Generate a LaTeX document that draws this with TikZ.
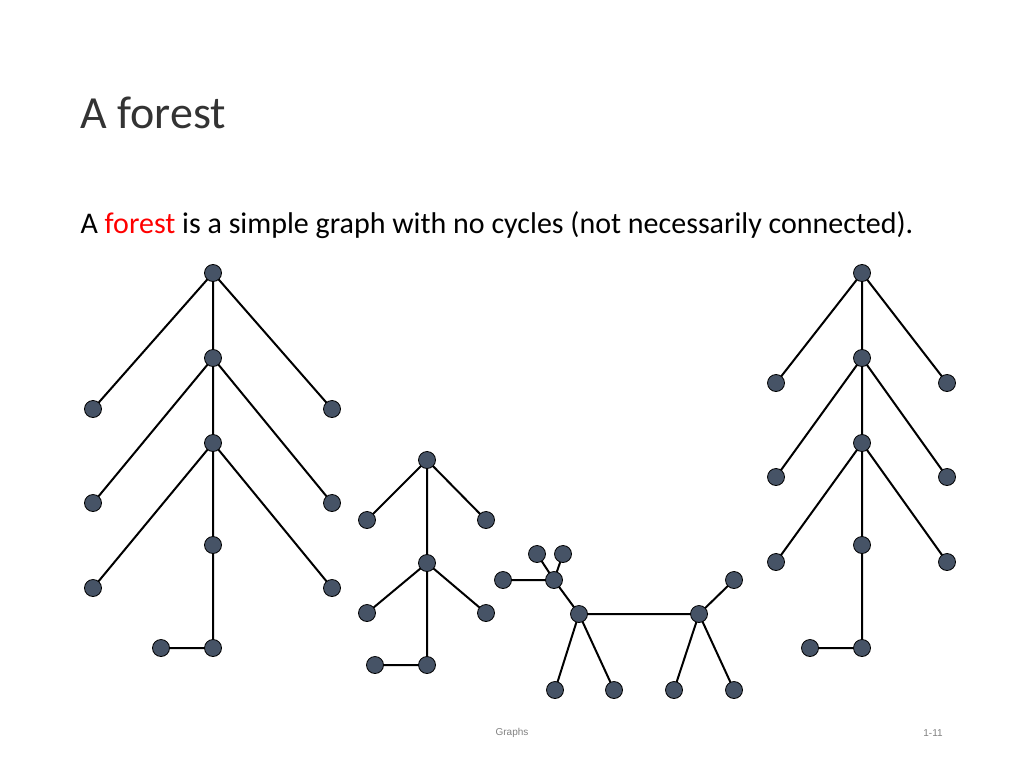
\documentclass[tikz,border=0pt]{standalone}
\usepackage{fontspec}
\setmainfont{Carlito}
\newfontfamily\footfont{Liberation Sans}
\begin{document}
\begin{tikzpicture}[x=1pt,y=-1pt,
  v/.style={circle,draw=black,fill=nodeblue,line width=0.8pt,minimum size=17pt,inner sep=0pt},
  e/.style={line width=2pt}]
\definecolor{nodeblue}{HTML}{465366}
\useasboundingbox (0,0) rectangle (1024,768);
\node[anchor=west,font=\fontsize{46}{54}\selectfont,text=black!80] (title) at (77,113) {A forest};
\node[anchor=west,font=\fontsize{30}{36}\selectfont] (txt) at (77,225) {A \textcolor{red}{forest} is a simple graph with no cycles (not necessarily connected).};
\node[font=\footfont\fontsize{10}{12}\selectfont,text=gray] (ft) at (512,733) {Graphs};
\node[font=\footfont\fontsize{10}{12}\selectfont,text=gray] (pg) at (933,733) {1-11};
% tree 1
\foreach \n/\x/\y in {a1/213/273,a2/213/358,a3/213/443,a4/213/545,a5/213/648,a6/161/648,
  b1/93/409,b2/332/409,b3/93/503,b4/332/503,b5/93/588,b6/332/588}
  \coordinate (\n) at (\x,\y);
\draw[e] (a1)--(a2)--(a3)--(a4)--(a5)--(a6) (a1)--(b1) (a1)--(b2) (a2)--(b3) (a2)--(b4) (a3)--(b5) (a3)--(b6);
% tree 2
\foreach \n/\x/\y in {c1/427/460,c2/367/520,c3/486/520,c4/427/563,c5/367/613,c6/486/613,c7/427/665,c8/375/665}
  \coordinate (\n) at (\x,\y);
\draw[e] (c1)--(c4)--(c7)--(c8) (c1)--(c2) (c1)--(c3) (c4)--(c5) (c4)--(c6);
% deer
\foreach \n/\x/\y in {d1/554/580,d2/537/554,d3/563/554,d4/503/580,d5/579/614,d6/699/614,d7/734/580,d8/555/690,d9/614/690,d10/674/690,d11/734/690}
  \coordinate (\n) at (\x,\y);
\draw[e] (d2)--(d1) (d3)--(d1) (d4)--(d1)--(d5)--(d6)--(d7) (d5)--(d8) (d5)--(d9) (d6)--(d10) (d6)--(d11);
% tree 3
\foreach \n/\x/\y in {f1/862/273,f2/862/358,f3/862/443,f4/862/545,f5/862/648,f6/810/648,
  g1/776/383,g2/947/383,g3/776/477,g4/947/477,g5/776/562,g6/947/562}
  \coordinate (\n) at (\x,\y);
\draw[e] (f1)--(f2)--(f3)--(f4)--(f5)--(f6) (f1)--(g1) (f1)--(g2) (f2)--(g3) (f2)--(g4) (f3)--(g5) (f3)--(g6);
\foreach \n in {a1,a2,a3,a4,a5,a6,b1,b2,b3,b4,b5,b6,c1,c2,c3,c4,c5,c6,c7,c8,d1,d2,d3,d4,d5,d6,d7,d8,d9,d10,d11,f1,f2,f3,f4,f5,f6,g1,g2,g3,g4,g5,g6}
  \node[v] at (\n) {};
\end{tikzpicture}
\end{document}
